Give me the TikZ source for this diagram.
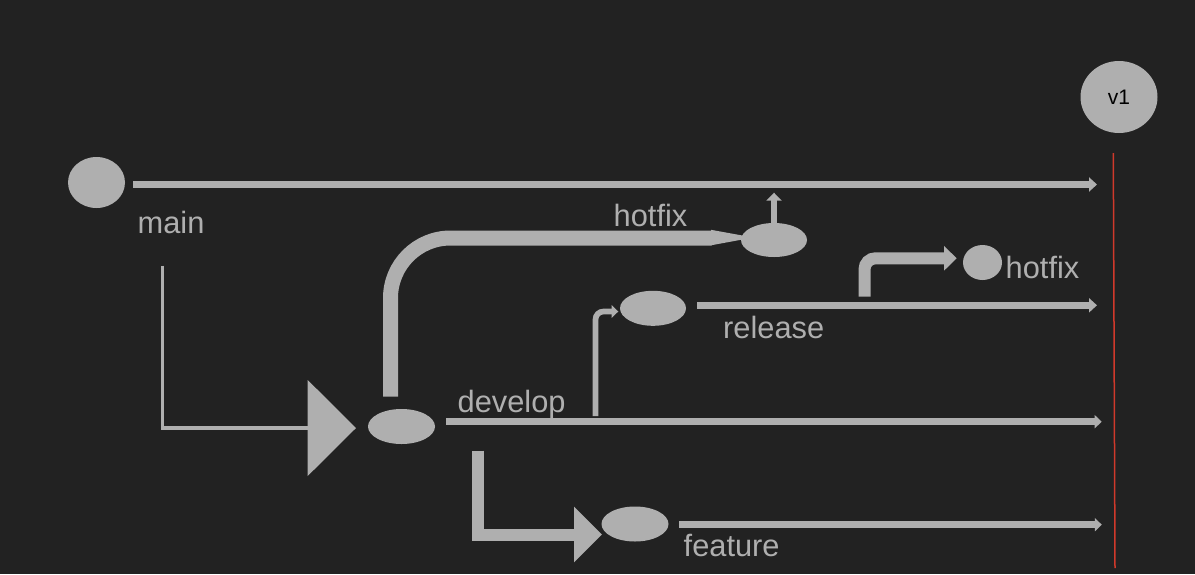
\documentclass[tikz,border=0pt]{standalone}
\usepackage{fontspec}
\setmainfont{Liberation Sans}
\usetikzlibrary{shapes.geometric,arrows.meta}
\definecolor{bgc}{HTML}{222222}
\definecolor{gr}{HTML}{AFAFAF}
\definecolor{redl}{HTML}{D0392B}
\tikzset{
  blob/.style={ellipse,fill=gr,draw=none,inner sep=0pt},
  lbl/.style={anchor=base west,inner sep=0pt,text=gr,font=\fontsize{30.8pt}{31pt}\selectfont},
  branch/.style={draw=gr,line width=7pt,-{Triangle[width=14pt,length=8pt]}},
  thinbranch/.style={draw=gr,line width=6.7pt,-{Triangle[width=13pt,length=7pt]}}
}
\begin{document}
\begin{tikzpicture}[x=1pt,y=-1pt]
\fill[bgc] (0,0) rectangle (1195,574);
\useasboundingbox (0,0) rectangle (1195,574);

% nodes
\node[blob,minimum width=57pt,minimum height=51pt] (mainc) at (96.5,182.5) {};
\node[blob,minimum width=77pt,minimum height=72pt,font=\fontsize{21pt}{21pt}\selectfont,text=black] (v1) at (1119,97) {v1};
\node[blob,minimum width=66pt,minimum height=34pt] (hfx) at (774,240) {};
\node[blob,minimum width=66pt,minimum height=35pt] (rel) at (653,308.3) {};
\node[blob,minimum width=67pt,minimum height=35pt] (dev) at (401.5,426.5) {};
\node[blob,minimum width=67pt,minimum height=35pt] (feat) at (635,524) {};
\node[blob,minimum width=39pt,minimum height=35pt] (hfx2) at (982.5,262.5) {};

% labels
\node[lbl] (lmain) at (137.5,233) {main};
\node[lbl] (lhot) at (613.5,226) {hotfix};
\node[lbl] (ldev) at (457.5,412) {develop};
\node[lbl] (lrel) at (723,338.3) {release};
\node[lbl] (lhot2) at (1005.5,278.3) {hotfix};
\node[lbl] (lfeat) at (683.5,556.7) {feature};

% coordinates
\coordinate (mainS) at (133,184.5);
\coordinate (mainE) at (1097,184.5);
\coordinate (relS) at (697,305.3);
\coordinate (relE) at (1097,305.3);
\coordinate (devS) at (446,421.7);
\coordinate (devE) at (1101.7,421.7);
\coordinate (featS) at (679,524.7);
\coordinate (featE) at (1101.8,524.7);
\coordinate (redT) at (1113.3,153);
\coordinate (redB) at (1115,568);
\coordinate (mcTop) at (162.5,265.7);
\coordinate (mcEnd) at (308,428);
\coordinate (triA) at (307.7,380);
\coordinate (triB) at (356,428);
\coordinate (triC) at (307.7,476);
\coordinate (hfBot) at (390.5,396.7);
\coordinate (hfShaft) at (711.7,238);
\coordinate (hfTip) at (753.3,237.5);
\coordinate (upTip) at (774,192.7);
\coordinate (drBot) at (595.5,416);
\coordinate (drTip) at (618.3,311.5);
\coordinate (h2Bot) at (864.5,296.7);
\coordinate (h2Tip) at (956.7,258.3);
\coordinate (fbTop) at (477.5,450.7);
\coordinate (fbTip) at (602,534.5);

% branch lines
\draw[branch] (mainS) -- (mainE);
\draw[branch] (relS) -- (relE);
\draw[thinbranch] (devS) -- (devE);
\draw[thinbranch] (featS) -- (featE);

% red line
\draw[redl,line width=1.5pt] (redT) -- (redB);

% main -> develop
\draw[gr,line width=3.5pt] (mcTop) |- (mcEnd);
\fill[gr] (triA) -- (triB) -- (triC) -- cycle;

% develop -> hotfix (big)
\draw[gr,line width=15pt,rounded corners=60pt] (hfBot) |- (hfShaft);
\fill[gr] (711,229.8) -- (hfTip) -- (711,245.3) -- cycle;

% hotfix up arrow
\draw[gr,line width=6pt,-{Triangle[width=15pt,length=8pt]}] (hfx.north) -- (upTip);

% develop -> release
\draw[gr,line width=5.7pt,rounded corners=8pt,-{Triangle[width=12.3pt,length=6.6pt]}] (drBot) |- (drTip);

% release -> hotfix2
\draw[gr,line width=12pt,rounded corners=11pt,-{Triangle[width=24pt,length=12.7pt]}] (h2Bot) |- (h2Tip);

% develop -> feature
\draw[gr,line width=12pt,-{Triangle[width=54pt,length=28pt]}] (fbTop) |- (fbTip);
\end{tikzpicture}
\end{document}
